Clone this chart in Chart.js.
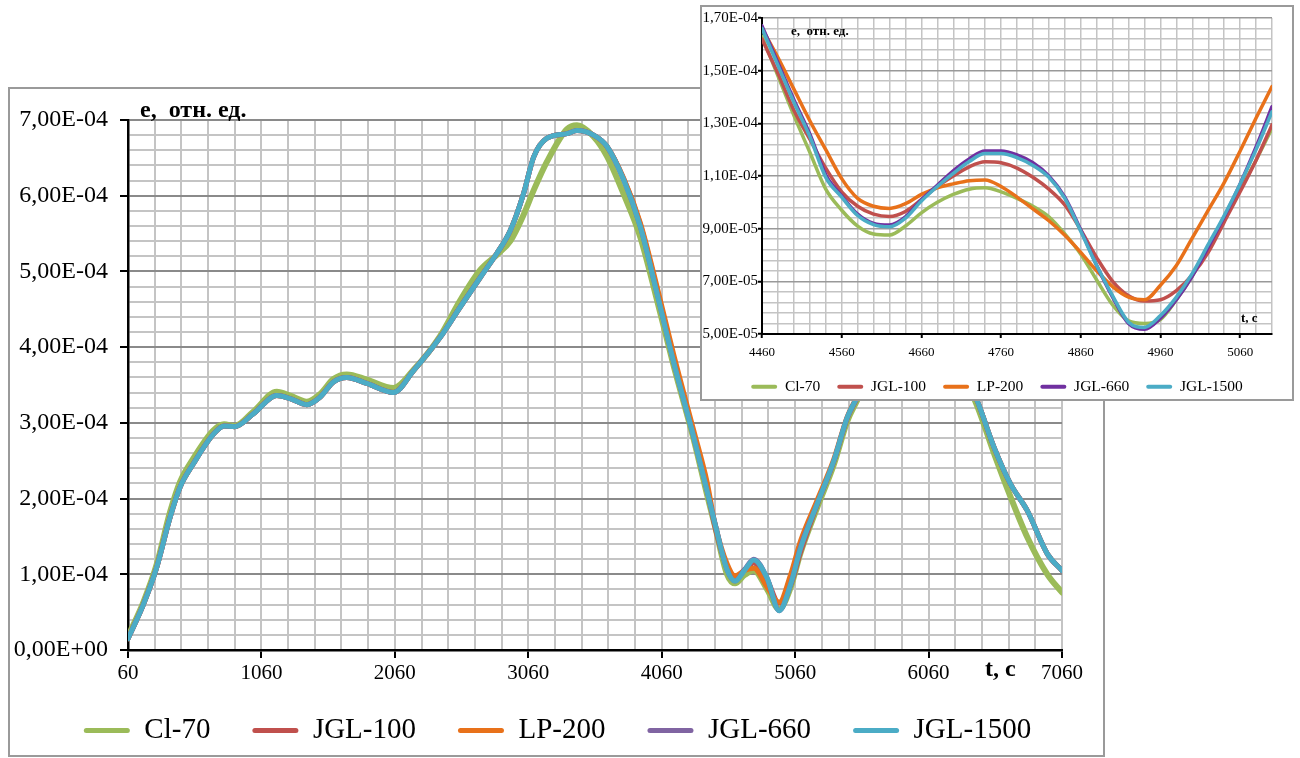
<!DOCTYPE html>
<html>
<head>
<meta charset="utf-8">
<script src="https://cdn.jsdelivr.net/npm/chart.js@4.4.1/dist/chart.umd.min.js"></script>
<style>
    body { margin: 0; background: #fff; width: 1300px; height: 758px; position: relative; overflow: hidden; }
    #mainBox { position: absolute; left: 8px; top: 87px; width: 1097px; height: 670px; border: 2px solid #9a9a9a; box-sizing: border-box; background: #fff; }
    #insetBox { position: absolute; left: 700px; top: 5px; width: 594px; height: 396px; border: 2px solid #9a9a9a; box-sizing: border-box; background: #fff; z-index: 2; }
    canvas { display: block; }
</style>
</head>
<body>
<div id="mainBox"><canvas id="mainChart" width="1093" height="666"></canvas></div>
<div id="insetBox"><canvas id="insetChart" width="590" height="392"></canvas></div>
<script>
// series names and colours
const names = ['Cl-70', 'JGL-100', 'LP-200', 'JGL-660', 'JGL-1500'];
const colMain = ['#9BBB59', '#C0504D', '#E8711A', '#8064A2', '#4BACC6'];
const colInset = ['#9BBB59', '#C0504D', '#E8711A', '#7030A0', '#4BACC6'];

// main chart: t, c  /  e in units of 1e-4
const tMain = [60, 175, 275, 375, 450, 550, 700, 780, 860, 1000, 1175, 1275, 1400, 1500, 1600, 1700, 1850, 2050, 2200, 2400,
    2550, 2700, 2825, 2925, 3025, 3100, 3200, 3350, 3425, 3550, 3650, 3775, 3900, 4025, 4150, 4300, 4400, 4460, 4550, 4610,
    4680, 4750, 4850, 4940, 5025, 5100, 5225, 5350, 5450, 5525, 5650, 5800, 5950, 6100, 6250, 6425, 6550, 6675, 6800, 6950, 7060];
const cl70Main = [0.18, 0.63, 1.13, 1.82, 2.22, 2.53, 2.90, 2.98, 2.96, 3.15, 3.41, 3.36, 3.28, 3.38, 3.58, 3.64, 3.57, 3.46, 3.70, 4.15,
    4.62, 5.02, 5.22, 5.40, 5.75, 6.07, 6.45, 6.88, 6.93, 6.78, 6.52, 6.02, 5.45, 4.62, 3.75, 2.78, 2.05, 1.63, 1.00, 0.88,
    0.99, 1.05, 0.80, 0.54, 0.82, 1.28, 1.88, 2.45, 3.02, 3.30, 3.78, 4.22, 4.42, 4.30, 3.90, 3.22, 2.60, 2.02, 1.49, 1.00, 0.76];
const jgl100Main = [0.15, 0.60, 1.09, 1.75, 2.15, 2.46, 2.85, 2.96, 2.95, 3.12, 3.36, 3.32, 3.24, 3.34, 3.54, 3.60, 3.52, 3.40, 3.69, 4.13,
    4.53, 4.92, 5.24, 5.54, 6.03, 6.51, 6.76, 6.82, 6.86, 6.80, 6.65, 6.22, 5.62, 4.76, 3.85, 2.85, 2.12, 1.62, 1.09, 0.95,
    1.06, 1.15, 0.93, 0.62, 0.85, 1.29, 1.92, 2.49, 3.06, 3.33, 3.80, 4.25, 4.45, 4.35, 3.95, 3.29, 2.68, 2.19, 1.84, 1.27, 1.05];
const lp200Main = [0.15, 0.60, 1.09, 1.75, 2.15, 2.46, 2.85, 2.96, 2.95, 3.12, 3.36, 3.32, 3.24, 3.34, 3.54, 3.60, 3.52, 3.40, 3.69, 4.13,
    4.53, 4.92, 5.24, 5.54, 6.03, 6.51, 6.76, 6.82, 6.86, 6.80, 6.65, 6.23, 5.64, 4.80, 3.90, 2.90, 2.22, 1.66, 1.14, 0.98,
    1.05, 1.08, 0.83, 0.63, 0.99, 1.44, 1.98, 2.52, 3.08, 3.35, 3.80, 4.25, 4.45, 4.35, 3.95, 3.29, 2.68, 2.19, 1.84, 1.27, 1.05];
const jgl660Main = [0.15, 0.60, 1.09, 1.75, 2.15, 2.46, 2.85, 2.96, 2.95, 3.12, 3.36, 3.32, 3.24, 3.34, 3.54, 3.60, 3.52, 3.40, 3.69, 4.13,
    4.53, 4.92, 5.24, 5.54, 6.03, 6.51, 6.76, 6.82, 6.86, 6.80, 6.65, 6.21, 5.59, 4.71, 3.80, 2.81, 2.10, 1.67, 1.06, 0.91,
    1.06, 1.20, 0.95, 0.52, 0.86, 1.36, 1.93, 2.50, 3.07, 3.34, 3.80, 4.25, 4.45, 4.35, 3.95, 3.29, 2.68, 2.19, 1.84, 1.27, 1.05];
const jgl1500Main = [0.15, 0.60, 1.09, 1.75, 2.15, 2.46, 2.85, 2.96, 2.95, 3.12, 3.36, 3.32, 3.24, 3.34, 3.54, 3.60, 3.52, 3.40, 3.69, 4.13,
    4.53, 4.92, 5.24, 5.54, 6.03, 6.51, 6.76, 6.82, 6.86, 6.80, 6.65, 6.21, 5.59, 4.71, 3.80, 2.81, 2.10, 1.66, 1.06, 0.91,
    1.05, 1.19, 0.95, 0.52, 0.86, 1.34, 1.93, 2.50, 3.07, 3.34, 3.80, 4.25, 4.45, 4.35, 3.95, 3.29, 2.68, 2.19, 1.84, 1.27, 1.05];

// inset: t from 4460 to 5100 every 20 s  /  e in units of 1e-5
const tInset = [4460, 4480, 4500, 4520, 4540, 4560, 4580, 4600, 4620, 4640, 4660, 4680, 4700, 4720, 4740, 4760, 4780,
    4800, 4820, 4840, 4860, 4880, 4900, 4920, 4940, 4960, 4980, 5000, 5020, 5040, 5060, 5080, 5100];
const cl70Inset = [16.3, 14.8, 13.3, 11.9, 10.5, 9.7, 9.1, 8.8, 8.76, 9.1, 9.6, 10.0, 10.3, 10.5, 10.55, 10.4, 10.15,
    9.85, 9.45, 8.8, 8.03, 7.05, 6.1, 5.5, 5.4, 5.55, 6.3, 7.2, 8.3, 9.4, 10.5, 11.6, 12.81];
const jgl100Inset = [16.2, 14.9, 13.5, 12.4, 11.3, 10.4, 9.85, 9.55, 9.46, 9.65, 10.1, 10.6, 11.0, 11.35, 11.54, 11.5, 11.3,
    10.95, 10.5, 9.9, 8.95, 7.9, 7.0, 6.45, 6.25, 6.3, 6.65, 7.25, 8.1, 9.25, 10.4, 11.6, 12.94];
const lp200Inset = [16.6, 15.5, 14.3, 13.1, 12.0, 10.9, 10.15, 9.85, 9.77, 9.95, 10.3, 10.55, 10.7, 10.82, 10.85, 10.6, 10.2,
    9.75, 9.3, 8.75, 8.1, 7.4, 6.8, 6.4, 6.3, 6.85, 7.6, 8.65, 9.7, 10.75, 11.95, 13.2, 14.4];
const jgl660Inset = [16.7, 15.3, 13.9, 12.6, 11.05, 10.25, 9.55, 9.2, 9.14, 9.45, 10.1, 10.65, 11.2, 11.65, 11.95, 11.95, 11.8,
    11.5, 11.0, 10.2, 8.95, 7.6, 6.4, 5.4, 5.18, 5.6, 6.3, 7.2, 8.3, 9.45, 10.7, 12.1, 13.63];
const jgl1500Inset = [16.6, 15.2, 13.8, 12.5, 10.95, 10.2, 9.5, 9.15, 9.07, 9.4, 10.05, 10.6, 11.1, 11.55, 11.85, 11.85, 11.7,
    11.4, 10.95, 10.15, 8.9, 7.6, 6.45, 5.45, 5.25, 5.7, 6.4, 7.3, 8.4, 9.5, 10.7, 12.0, 13.44];

const mainSeries = [cl70Main, jgl100Main, lp200Main, jgl660Main, jgl1500Main];
const insetSeries = [cl70Inset, jgl100Inset, lp200Inset, jgl660Inset, jgl1500Inset];

// 7,00E-04 style labels
const fmtE = (x) => {
    const s = x.toExponential(2).replace('.', ',');
    return s.replace(/e([+-])(\d+)$/, (m, sg, d) => 'E' + sg + d.padStart(2, '0'));
}

const serif = '"Liberation Serif", "Times New Roman", serif';

const axisTitles = {
    id: 'axisTitles',
    afterDraw(chart, args, o) {
        const { ctx, chartArea } = chart;
        ctx.save();
        ctx.font = 'bold ' + o.size + 'px ' + serif;
        ctx.fillStyle = '#000';
        ctx.textBaseline = 'alphabetic';
        ctx.fillText(o.yText, chartArea.left + o.yDx, chartArea.top + o.yDy);
        ctx.fillText(o.xText, chartArea.right + o.xDx, chartArea.bottom + o.xDy);
        ctx.restore();
    }
};

const makeChart = (el, cfg) => {
    const datasets = names.map((nm, i) => ({
        label: nm,
        data: cfg.t.map((t, j) => ({ x: t, y: cfg.series[i][j] })),
        borderColor: cfg.colors[i],
        backgroundColor: cfg.colors[i],
        borderWidth: cfg.lineW[i],
        borderCapStyle: 'round',
        pointRadius: 0,
        cubicInterpolationMode: 'monotone',
        order: 5 - i
    }));
    return new Chart(el, {
        type: 'line',
        data: { datasets: datasets },
        plugins: [axisTitles],
        options: {
            responsive: false,
            animation: false,
            devicePixelRatio: 1,
            layout: { padding: cfg.padding },
            scales: {
                x: {
                    type: 'linear',
                    min: cfg.xMin,
                    max: cfg.xMax,
                    afterBuildTicks: (axis) => { axis.ticks = cfg.xGrid.map(v => ({ value: v })) },
                    afterFit: (s) => { s.height = cfg.xAxisH },
                    ticks: {
                        autoSkip: false,
                        maxRotation: 0,
                        // mirrored with a negative padding: labels sit below the axis and are not clipped
                        mirror: true,
                        padding: cfg.xPad,
                        color: '#000',
                        font: { family: serif, size: cfg.xFont },
                        callback: (v, idx) => idx % 5 === 0 ? String(Math.round(v)) : ''
                    },
                    grid: {
                        color: cfg.minorCol,
                        lineWidth: cfg.gridW,
                        tickLength: cfg.tickLen,
                        tickColor: (c) => c.index % 5 === 0 ? '#000' : 'rgba(0,0,0,0)',
                        tickWidth: 2
                    },
                    border: { color: '#000', width: cfg.axisW }
                },
                y: {
                    type: 'linear',
                    min: cfg.yMin,
                    max: cfg.yMax,
                    afterBuildTicks: (axis) => { axis.ticks = cfg.yGrid.map(v => ({ value: v })) },
                    afterFit: (s) => { s.width = cfg.yAxisW },
                    ticks: {
                        autoSkip: false,
                        padding: cfg.yPad,
                        color: '#000',
                        font: { family: serif, size: cfg.yFont },
                        callback: (v, idx) => idx % 5 === 0 ? fmtE(v * cfg.unit) : ''
                    },
                    grid: {
                        color: (c) => c.index % 5 === 0 ? cfg.majorCol : cfg.minorCol,
                        lineWidth: cfg.gridW,
                        tickLength: cfg.tickLen,
                        tickColor: (c) => c.index % 5 === 0 ? '#000' : 'rgba(0,0,0,0)',
                        tickWidth: 2
                    },
                    border: { color: '#000', width: cfg.axisW }
                },
                // empty right axis, only keeps the plot away from the right edge
                yRight: {
                    position: 'right',
                    afterFit: (s) => { s.width = cfg.rightW },
                    grid: { display: false },
                    ticks: { display: false },
                    border: { display: false }
                }
            },
            plugins: {
                tooltip: { enabled: false },
                axisTitles: cfg.titles,
                legend: {
                    position: 'bottom',
                    maxHeight: cfg.legMaxH,
                    labels: {
                        color: '#000',
                        font: { family: serif, size: cfg.legFont },
                        boxWidth: cfg.legBoxW,
                        boxHeight: cfg.legBoxH,
                        padding: cfg.legPad,
                        useBorderRadius: true,
                        borderRadius: cfg.legBoxH / 2,
                        sort: (a, b) => a.datasetIndex - b.datasetIndex,
                        generateLabels: (chart) => Chart.defaults.plugins.legend.labels.generateLabels(chart)
                            .map(it => Object.assign(it, { lineWidth: 0, fillStyle: it.strokeStyle }))
                    }
                }
            }
        }
    });
}

// grid positions (every 200 s / every 2E-05 on the main chart)
const xGridMain = [];
for (let i = 0; i <= 35; i++) xGridMain.push(60 + 200 * i);
const yGridMain = [];
for (let i = 0; i <= 35; i++) yGridMain.push(i * 0.2);

const xGridInset = [];
for (let i = 0; i <= 32; i++) xGridInset.push(4460 + 20 * i);
const yGridInset = [];
for (let i = 0; i <= 30; i++) yGridInset.push(5 + i * 0.4);

makeChart(document.getElementById('mainChart'), {
    t: tMain, series: mainSeries, colors: colMain, lineW: [6, 5, 5, 5, 5],
    padding: { left: 2, top: 31, right: 0, bottom: 0 },
    xMin: 60, xMax: 7060, yMin: 0, yMax: 7, unit: 1e-4,
    xGrid: xGridMain, yGrid: yGridMain,
    xAxisH: 24, yAxisW: 116, rightW: 41, xPad: -35.6, yPad: 12, tickLen: 8,
    xFont: 21, yFont: 24, gridW: 2, axisW: 2.5,
    minorCol: '#c4c4c4', majorCol: '#8a8a8a',
    legFont: 29, legBoxW: 46, legBoxH: 5, legPad: 42, legMaxH: 82,
    titles: { size: 24, yText: 'e,  отн. ед.', yDx: 12, yDy: -3, xText: 't, c', xDx: -77, xDy: 26 }
});

makeChart(document.getElementById('insetChart'), {
    t: tInset, series: insetSeries, colors: colInset, lineW: [3.5, 3.5, 3.5, 3.5, 3.5],
    padding: { left: 0, top: 11, right: 0, bottom: 0 },
    xMin: 4460, xMax: 5100, yMin: 5, yMax: 17, unit: 1e-5,
    xGrid: xGridInset, yGrid: yGridInset,
    xAxisH: 28, yAxisW: 60, rightW: 20, xPad: -26.8, yPad: 0, tickLen: 4,
    xFont: 13, yFont: 15, gridW: 1.5, axisW: 2,
    minorCol: '#c4c4c4', majorCol: '#999999',
    legFont: 15.5, legBoxW: 26, legBoxH: 4, legPad: 17, legMaxH: 37,
    titles: { size: 13, yText: 'e,  отн. ед.', yDx: 29, yDy: 17, xText: 't, c', xDx: -31, xDy: -12 }
});
</script>
</body>
</html>
